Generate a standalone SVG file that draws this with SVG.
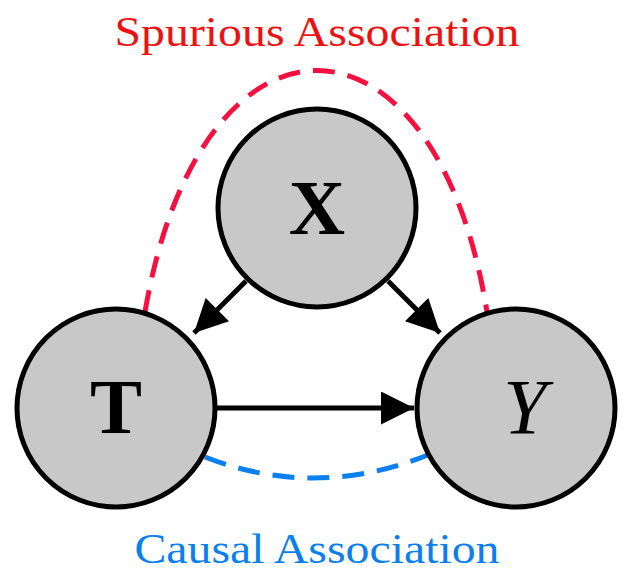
<svg xmlns="http://www.w3.org/2000/svg" width="634" height="579" viewBox="0 0 634 579">
<defs>
<style>
.node{fill:#c8c8c8;stroke:#000;stroke-width:5}
.lbl{font-family:"Liberation Serif","DejaVu Serif",serif;font-size:78px;fill:#000;text-anchor:middle}
.edge{stroke:#000;stroke-width:5;fill:none}
.cap{font-family:"Liberation Serif","DejaVu Serif",serif;font-size:42px;text-anchor:middle}
</style>
<marker id="ah" viewBox="0 0 10 10" refX="10" refY="5" markerWidth="7.2" markerHeight="6.6" markerUnits="strokeWidth" orient="auto">
<path d="M0,0 L10,5 L0,10 z" fill="#000"/>
</marker>
</defs>
<rect width="634" height="579" fill="#fff"/>
<g id="connectors">
<path class="edge" d="M246,281 L194,333" marker-end="url(#ah)"/>
<path class="edge" d="M388,281 L440,333" marker-end="url(#ah)"/>
<path class="edge" d="M217,408 L414,408" marker-end="url(#ah)"/>
<path d="M145,312 C200,-10 435,-10 487,312" fill="none" stroke="#f5113f" stroke-width="5" stroke-dasharray="22,13"/>
<path d="M205,457 Q315,500 428,455" fill="none" stroke="#0b80f0" stroke-width="5" stroke-dasharray="22,13"/>
</g>
<g id="node-X">
<circle class="node" cx="317" cy="208" r="99"/>
<text class="lbl" x="317" y="234" font-weight="bold">X</text>
</g>
<g id="node-T">
<circle class="node" cx="116" cy="408" r="99"/>
<text class="lbl" x="116" y="433" font-weight="bold">T</text>
</g>
<g id="node-Y">
<circle class="node" cx="516" cy="408" r="99"/>
<text class="lbl" x="525" y="433" font-style="italic">Y</text>
</g>
<g id="labels">
<text class="cap" x="317" y="46" fill="#ee1111" textLength="405" lengthAdjust="spacingAndGlyphs">Spurious Association</text>
<text class="cap" x="317" y="563" fill="#0b7ff0" textLength="365" lengthAdjust="spacingAndGlyphs">Causal Association</text>
</g>
</svg>
